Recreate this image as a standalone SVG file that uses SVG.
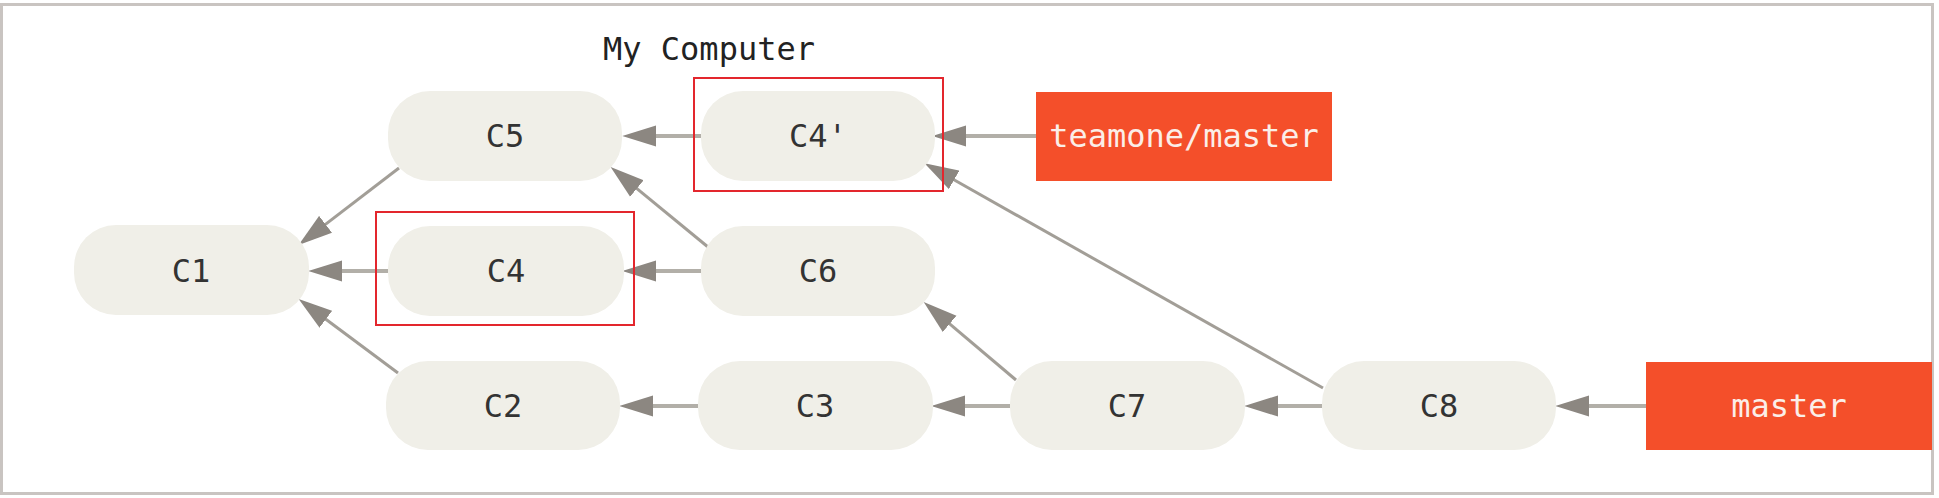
<svg xmlns="http://www.w3.org/2000/svg" width="1939" height="498" viewBox="0 0 1939 498">
<style>
.node rect{fill:#f0efe8}
.node text{font-family:"DejaVu Sans Mono",monospace;font-size:32px;fill:#333;text-anchor:middle}
.ref rect{fill:#f44f2a}
.ref text{font-family:"DejaVu Sans Mono",monospace;font-size:32px;fill:#fbeee8;text-anchor:middle}
.h{stroke:#b2afa8;stroke-width:4;fill:none;marker-end:url(#ah)}
.d{stroke:#a29e97;stroke-width:3;fill:none;marker-end:url(#ah)}
.hl{fill:none;stroke:#e3262d;stroke-width:2}
.title{font-family:"DejaVu Sans Mono",monospace;font-size:32px;fill:#222;text-anchor:middle}
</style>
<defs>
<marker id="ah" markerUnits="userSpaceOnUse" markerWidth="34" markerHeight="22" viewBox="0 0 32 20" refX="4" refY="10" orient="auto">
<path d="M0,0 L32,10 L0,20 z" fill="#8c8781"/>
</marker>
</defs>
<rect x="0" y="0" width="1939" height="498" fill="#fff"/>
<rect x="1.5" y="4.5" width="1931" height="489" fill="none" stroke="#c9c4c1" stroke-width="3"/>
<text class="title" x="709" y="60">My Computer</text>
<g id="connectors">
<line class="h" x1="701" y1="136" x2="652" y2="136"/>
<line class="h" x1="1036" y1="136" x2="962" y2="136"/>
<line class="h" x1="389" y1="271" x2="338" y2="271"/>
<line class="h" x1="701" y1="271" x2="652" y2="271"/>
<line class="h" x1="698" y1="406" x2="649" y2="406"/>
<line class="h" x1="1010" y1="406" x2="961" y2="406"/>
<line class="h" x1="1322" y1="406" x2="1274" y2="406"/>
<line class="h" x1="1646" y1="406" x2="1585" y2="406"/>
<line class="d" x1="399" y1="168" x2="322.2" y2="226.9"/>
<line class="d" x1="398" y1="373" x2="322.5" y2="316.7"/>
<line class="d" x1="708" y1="247" x2="633.6" y2="185.8"/>
<line class="d" x1="1016" y1="380" x2="946.4" y2="321.1"/>
<line class="d" x1="1323" y1="388" x2="950.4" y2="177.8"/>
</g>
<g id="C1" class="node"><rect x="74" y="225" width="235" height="90" rx="42"/><text x="191" y="282">C1</text></g>
<g id="C5" class="node"><rect x="388" y="91" width="234" height="90" rx="42"/><text x="505" y="147">C5</text></g>
<g id="C4p" class="node"><rect x="701" y="91" width="234" height="90" rx="42"/><text x="818" y="147">C4'</text></g>
<g id="C4" class="node"><rect x="388" y="226" width="236" height="90" rx="42"/><text x="506" y="282">C4</text></g>
<g id="C6" class="node"><rect x="701" y="226" width="234" height="90" rx="42"/><text x="818" y="282">C6</text></g>
<g id="C2" class="node"><rect x="386" y="361" width="234" height="89" rx="42"/><text x="503" y="417">C2</text></g>
<g id="C3" class="node"><rect x="698" y="361" width="235" height="89" rx="42"/><text x="815" y="417">C3</text></g>
<g id="C7" class="node"><rect x="1010" y="361" width="235" height="89" rx="42"/><text x="1127" y="417">C7</text></g>
<g id="C8" class="node"><rect x="1322" y="361" width="234" height="89" rx="42"/><text x="1439" y="417">C8</text></g>
<g id="teamone-master" class="ref"><rect x="1036" y="92" width="296" height="89"/><text x="1184" y="147">teamone/master</text></g>
<g id="master" class="ref"><rect x="1646" y="362" width="286" height="88"/><text x="1789" y="417">master</text></g>
<g id="highlights">
<rect class="hl" x="694" y="78" width="249" height="113"/>
<rect class="hl" x="376" y="212" width="258" height="113"/>
</g>
</svg>
